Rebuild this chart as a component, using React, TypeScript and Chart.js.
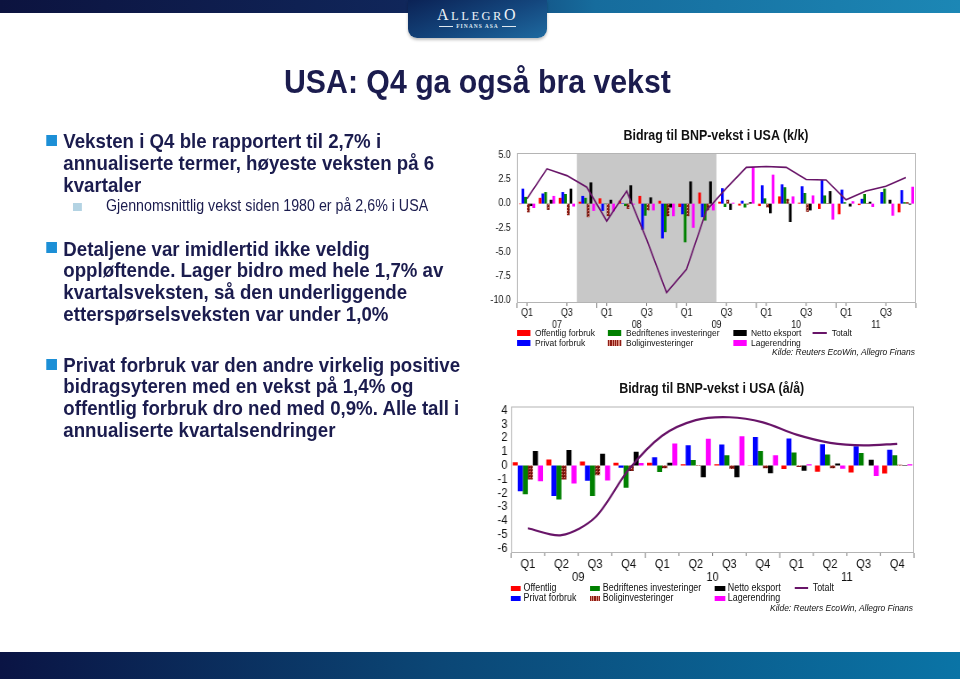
import React, { useEffect, useRef } from 'react';
import { Chart, registerables } from 'chart.js';

Chart.register(...registerables);

const FONT = '"Liberation Sans", Arial, Helvetica, sans-serif';
const SERIF = '"Liberation Serif", "DejaVu Serif", serif';
const NAVY = '#1b1c4e';
const SX = 0.89; // horizontal compression of the slide
const X = (v: number) => v / SX;

// ---------------- Chart 1: Bidrag til BNP-vekst i USA (k/k) ----------------
const TITLE_KK = 'Bidrag til BNP-vekst i USA (k/k)';
const QUARTERS_KK = ['Q1', 'Q2', 'Q3', 'Q4', 'Q1', 'Q2', 'Q3', 'Q4', 'Q1', 'Q2', 'Q3', 'Q4', 'Q1', 'Q2', 'Q3', 'Q4', 'Q1', 'Q2', 'Q3', 'Q4'];
const YEARS_KK = ['07', '08', '09', '10', '11'];
const OFFENTLIG_KK = [-0.05, 0.6, 0.6, 0.2, 0.55, 0.3, 0.8, 0.3, -0.35, 1.15, 0.2, -0.2, -0.25, 0.75, 0.1, -0.55, -1.1, -0.15, 0.0, -0.9];
const PRIVAT_KK = [1.55, 1.05, 1.2, 0.8, -0.75, 0.05, -2.7, -3.6, -1.1, -1.4, 1.6, 0.3, 1.9, 2.0, 1.8, 2.45, 1.45, 0.5, 1.2, 1.4];
const BEDRIFT_KK = [0.7, 1.2, 1.0, 0.6, -0.05, -0.25, -1.25, -2.95, -4.0, -1.75, -0.35, -0.4, 0.55, 1.7, 1.1, 0.85, 0.15, 1.0, 1.55, 0.15];
const BOLIG_KK = [-0.9, -0.65, -1.2, -1.4, -1.3, -0.55, -0.7, -1.3, -1.3, -0.7, 0.4, -0.1, -0.4, 0.5, -0.85, 0.05, 0.0, 0.05, 0.0, 0.15];
const NETTO_KK = [-0.25, 0.4, 1.55, 2.2, 0.4, 1.9, 0.65, -0.4, 2.3, 2.3, -0.65, 0.15, -1.0, -1.9, -0.7, 1.3, -0.3, 0.2, 0.4, -0.1];
const LAGER_KK = [-0.45, 0.8, -0.3, -0.75, -0.8, -0.1, -0.7, -1.3, -2.5, -0.7, 0.1, 3.8, 3.0, 0.75, 0.85, -1.65, 0.25, -0.35, -1.25, 1.75];
const TOTALT_KK = [0.5, 3.6, 2.9, 1.7, -1.8, 1.3, -3.7, -9.2, -6.8, -0.7, 1.6, 3.75, 3.85, 3.75, 2.5, 2.45, 0.4, 1.3, 1.8, 2.7];
const RECESSION_KK = [3, 9]; // first and last shaded quarter (Q4 07 - Q2 09)
const NAMES_KK = ['Offentlig forbruk', 'Privat forbruk', 'Bedriftenes investeringer', 'Boliginvesteringer', 'Netto eksport', 'Lagerendring'];

// ---------------- Chart 2: Bidrag til BNP-vekst i USA (å/å) ----------------
const TITLE_AA = 'Bidrag til BNP-vekst i USA (å/å)';
const QUARTERS_AA = ['Q1', 'Q2', 'Q3', 'Q4', 'Q1', 'Q2', 'Q3', 'Q4', 'Q1', 'Q2', 'Q3', 'Q4'];
const YEARS_AA = ['09', '10', '11'];
const OFFENTLIG_AA = [0.25, 0.45, 0.3, 0.2, 0.2, 0.1, 0.1, 0.02, -0.25, -0.45, -0.5, -0.58];
const PRIVAT_AA = [-1.85, -2.2, -1.1, -0.15, 0.6, 1.48, 1.53, 2.07, 1.97, 1.55, 1.4, 1.15];
const BEDRIFT_AA = [-2.07, -2.45, -2.2, -1.6, -0.47, 0.4, 0.75, 1.06, 0.95, 0.8, 0.92, 0.75];
const BOLIG_AA = [-1.0, -1.0, -0.7, -0.4, -0.2, 0.05, -0.25, -0.2, -0.1, -0.2, 0.0, 0.07];
const NETTO_AA = [1.06, 1.13, 0.85, 1.0, 0.2, -0.85, -0.85, -0.55, -0.37, 0.15, 0.42, 0.05];
const LAGER_AA = [-1.13, -1.3, -1.08, 0.18, 1.6, 1.95, 2.12, 0.75, 0.1, -0.22, -0.75, 0.1];
const TOTALT_AA = [-4.54, -5.04, -3.76, -0.3, 2.16, 3.29, 3.5, 3.13, 2.24, 1.65, 1.46, 1.58];
const NAMES_AA = ['Offentlig', 'Privat forbruk', 'Bedriftenes investeringer', 'Boliginvesteringer', 'Netto eksport', 'Lagerendring'];

const TOTAL_NAME = 'Totalt';
const SOURCE = 'Kilde: Reuters EcoWin, Allegro Finans';
const SERIES_COLORS = ['#ff0000', '#0000ff', '#008000', '#8e1c14', '#000000', '#ff00ff'];
const TOTAL_COLOR = '#681468';

// ---------------- Slide text ----------------
const SLIDE_TITLE = 'USA: Q4 ga også bra vekst';
const BULLET_1 = ['Veksten i Q4 ble rapportert til 2,7% i', 'annualiserte termer, høyeste veksten på 6', 'kvartaler'];
const SUB_1 = 'Gjennomsnittlig vekst siden 1980 er på 2,6% i USA';
const BULLET_2 = ['Detaljene var imidlertid ikke veldig', 'oppløftende. Lager bidro med hele 1,7% av', 'kvartalsveksten, så den underliggende', 'etterspørselsveksten var under 1,0%'];
const BULLET_3 = ['Privat forbruk var den andre virkelig positive', 'bidragsyteren med en vekst på 1,4% og', 'offentlig forbruk dro ned med 0,9%. Alle tall i', 'annualiserte kvartalsendringer'];

function hatchPattern(ctx: CanvasRenderingContext2D) {
  const c = document.createElement('canvas');
  c.width = 3;
  c.height = 3;
  const g = c.getContext('2d')!;
  g.fillStyle = '#8e1c14';
  g.fillRect(0, 0, 3, 3);
  g.fillStyle = '#e0a090';
  g.fillRect(1, 1, 1, 1);
  g.fillStyle = '#3a0805';
  g.fillRect(0, 0, 1, 1);
  return ctx.createPattern(c, 'repeat');
}

function decor(o: any) {
  return {
    id: 'decor',
    beforeDatasetsDraw(chart: any) {
      if (!o.shade) return;
      const { ctx, chartArea: a } = chart;
      const x = chart.scales.x;
      const w = x.getPixelForValue(1) - x.getPixelForValue(0);
      const x0 = x.getPixelForValue(o.shade[0]) - w / 2;
      const x1 = x.getPixelForValue(o.shade[1]) + w / 2;
      ctx.save();
      ctx.fillStyle = '#c8c8c8';
      ctx.fillRect(x0, a.top, x1 - x0, a.bottom - a.top);
      ctx.restore();
    },
    afterDraw(chart: any) {
      const { ctx, chartArea: a } = chart;
      const x = chart.scales.x;
      const n = chart.data.labels.length;
      const w = x.getPixelForValue(1) - x.getPixelForValue(0);
      ctx.save();
      ctx.strokeStyle = '#b4b4b4';
      ctx.lineWidth = 1;
      ctx.strokeRect(a.left + 0.5, a.top + 0.5, a.right - a.left - 1, a.bottom - a.top - 1);
      ctx.strokeStyle = '#7a7a7a';
      ctx.beginPath();
      for (let i = 0; i <= n; i++) {
        const px = x.getPixelForValue(0) - w / 2 + i * w;
        const isYear = i % o.perYear === 0;
        if (isYear || o.allBoundaries) {
          ctx.moveTo(px, a.bottom);
          ctx.lineTo(px, a.bottom + (isYear ? 5 : 3));
        }
      }
      if (o.centerEvery) {
        for (let i = 0; i < n; i += o.centerEvery) {
          const px = x.getPixelForValue(i);
          ctx.moveTo(px, a.bottom);
          ctx.lineTo(px, a.bottom + 3);
        }
      }
      ctx.stroke();
      ctx.fillStyle = '#111';
      ctx.font = o.yearFont;
      ctx.textAlign = 'center';
      ctx.textBaseline = 'middle';
      o.years.forEach((yr: string, k: number) => {
        const cx = (x.getPixelForValue(k * o.perYear) + x.getPixelForValue(k * o.perYear + o.perYear - 1)) / 2;
        ctx.fillText(yr, cx, a.bottom + o.yearOffset);
      });
      ctx.restore();
    },
  };
}

function buildConfig(p: any) {
  return (ctx: CanvasRenderingContext2D) => {
    const pattern = hatchPattern(ctx);
    const datasets: any[] = p.series.map((data: number[], i: number) => ({
      type: 'bar',
      label: p.names[i],
      data,
      backgroundColor: i === 3 ? pattern : SERIES_COLORS[i],
      borderWidth: 0,
      categoryPercentage: p.catPct,
      barPercentage: 1,
      order: 1,
    }));
    datasets.push({
      type: 'line',
      label: TOTAL_NAME,
      data: p.total,
      borderColor: TOTAL_COLOR,
      borderWidth: p.lineWidth,
      pointRadius: 0,
      tension: p.tension,
      fill: false,
      order: 0,
    });
    return {
      type: 'bar',
      data: { labels: p.labels, datasets },
      options: {
        responsive: false,
        animation: false,
        devicePixelRatio: 1,
        layout: { padding: p.padding },
        plugins: { legend: { display: false }, tooltip: { enabled: false }, title: { display: false } },
        scales: {
          x: {
            type: 'category',
            offset: true,
            grid: { display: false, drawTicks: false },
            border: { display: false },
            ticks: {
              autoSkip: false,
              maxRotation: 0,
              minRotation: 0,
              padding: p.xPad,
              color: '#111',
              font: { family: FONT, size: p.fontSize },
              callback: (_v: any, i: number) => (i % p.labelEvery === 0 ? p.labels[i] : ''),
            },
            afterFit: (s: any) => {
              s.height = p.xHeight;
            },
          },
          y: {
            min: p.yMin,
            max: p.yMax,
            grid: { display: false, drawTicks: false },
            border: { display: false },
            ticks: {
              stepSize: p.yStep,
              autoSkip: false,
              includeBounds: false,
              padding: p.yPad,
              color: '#111',
              font: { family: FONT, size: p.fontSize },
              callback: (v: any) => Number(v).toFixed(p.decimals),
            },
            afterFit: (s: any) => {
              s.width = p.yWidth;
            },
          },
        },
      },
      plugins: [decor(p.decor)],
    };
  };
}

const configKK = buildConfig({
  labels: QUARTERS_KK,
  names: NAMES_KK,
  series: [OFFENTLIG_KK, PRIVAT_KK, BEDRIFT_KK, BOLIG_KK, NETTO_KK, LAGER_KK],
  total: TOTALT_KK,
  yMin: -10.28,
  yMax: 5.24,
  yStep: 2.5,
  decimals: 1,
  fontSize: 10,
  yWidth: 40.9,
  yPad: 7,
  xHeight: 27,
  xPad: 4,
  padding: { left: 0, top: 9.3, right: 11, bottom: 0 },
  catPct: 0.82,
  lineWidth: 1.6,
  tension: 0,
  labelEvery: 2,
  decor: { shade: RECESSION_KK, years: YEARS_KK, perYear: 4, yearFont: `10px ${FONT}`, yearOffset: 21.8, centerEvery: 2, allBoundaries: false },
});

const configAA = buildConfig({
  labels: QUARTERS_AA,
  names: NAMES_AA,
  series: [OFFENTLIG_AA, PRIVAT_AA, BEDRIFT_AA, BOLIG_AA, NETTO_AA, LAGER_AA],
  total: TOTALT_AA,
  yMin: -6.33,
  yMax: 4.28,
  yStep: 1,
  decimals: 0,
  fontSize: 12.5,
  yWidth: 34.2,
  yPad: 4,
  xHeight: 32,
  xPad: 3.8,
  padding: { left: 0, top: 7.7, right: 13, bottom: 0 },
  catPct: 0.9,
  lineWidth: 2.2,
  tension: 0.3,
  labelEvery: 1,
  decor: { years: YEARS_AA, perYear: 4, yearFont: `12.5px ${FONT}`, yearOffset: 24.7, allBoundaries: true },
});

function ChartCanvas({ build, left, top, width, height }: any) {
  const ref = useRef<HTMLCanvasElement>(null);
  useEffect(() => {
    const canvas = ref.current!;
    const ctx = canvas.getContext('2d')!;
    const chart = new Chart(canvas, build(ctx));
    return () => chart.destroy();
  }, []);
  return <canvas ref={ref} width={width} height={height} style={{ position: 'absolute', left, top, width, height }} />;
}

// text helpers (x in screen px, converted to uncompressed coords)
function TextLine({ x, baseline, size, bold, color, children }: any) {
  return (
    <div
      style={{
        position: 'absolute',
        left: X(x),
        top: baseline - 0.8465 * size,
        fontSize: size,
        lineHeight: `${size}px`,
        fontWeight: bold ? 700 : 400,
        color,
        whiteSpace: 'nowrap',
      }}
    >
      {children}
    </div>
  );
}

function CenterText({ cx, cy, size, bold, italic, align, children }: any) {
  const lh = size * 1.2;
  const w = 600;
  const left = align === 'right' ? X(cx) - w : X(cx) - w / 2;
  return (
    <div
      style={{
        position: 'absolute',
        left,
        width: w,
        top: cy - lh / 2,
        fontSize: size,
        lineHeight: `${lh}px`,
        fontWeight: bold ? 700 : 400,
        fontStyle: italic ? 'italic' : 'normal',
        textAlign: align === 'right' ? 'right' : 'center',
        color: '#111',
        whiteSpace: 'nowrap',
      }}
    >
      {children}
    </div>
  );
}

const LEGEND_ROWS = [[0, 2, 4, -1], [1, 3, 5]];

function Legend({ names, cols, rows, sw, sh, textOff, lineEnd, size }: any) {
  const items: any[] = [];
  LEGEND_ROWS.forEach((row, r) => {
    row.forEach((si, c) => {
      const cy = rows[r];
      const x = cols[c];
      const lh = size * 1.2;
      if (si === -1) {
        items.push(<div key={`l${r}${c}`} style={{ position: 'absolute', left: X(x), top: cy - 1, width: X(lineEnd) - X(x), height: 2, background: TOTAL_COLOR }} />);
        items.push(
          <div key={`t${r}${c}`} style={{ position: 'absolute', left: X(lineEnd + 4.7), top: cy - lh / 2, fontSize: size, lineHeight: `${lh}px`, color: '#111', whiteSpace: 'nowrap' }}>
            {TOTAL_NAME}
          </div>
        );
      } else {
        const hatch = si === 3;
        items.push(
          <div
            key={`s${r}${c}`}
            style={{
              position: 'absolute',
              left: X(x),
              top: cy - sh / 2,
              width: sw / SX,
              height: sh,
              backgroundColor: SERIES_COLORS[si],
              backgroundImage: hatch ? 'repeating-linear-gradient(90deg, #8e1c14 0 1px, #d98a7c 1px 2px)' : 'none',
            }}
          />
        );
        items.push(
          <div key={`t${r}${c}`} style={{ position: 'absolute', left: X(x + textOff), top: cy - lh / 2, fontSize: size, lineHeight: `${lh}px`, color: '#111', whiteSpace: 'nowrap' }}>
            {names[si]}
          </div>
        );
      }
    });
  });
  return <>{items}</>;
}

function Bullet({ cy }: any) {
  return <div style={{ position: 'absolute', left: X(46), top: cy - 5.5, width: 11 / SX, height: 11, background: '#1c8fd6' }} />;
}

export default function App() {
  useEffect(() => {
    document.body.style.margin = '0';
    document.body.style.overflow = 'hidden';
  }, []);
  const lh = 21.8;
  return (
    <div style={{ position: 'absolute', left: 0, top: 0, width: 960, height: 679, background: '#fff', overflow: 'hidden', fontFamily: FONT }}>
      {/* top bar */}
      <div style={{ position: 'absolute', left: 0, top: 0, width: 960, height: 13, background: 'linear-gradient(90deg, #0c133f 0%, #10265a 42%, #166c9d 62%, #1c87b5 100%)' }} />
      {/* logo */}
      <div style={{ position: 'absolute', left: 408, top: 0, width: 139, height: 38, borderRadius: '0 0 9px 9px', background: 'linear-gradient(160deg, #0b2255 0%, #14477e 55%, #1e6aa0 100%)', boxShadow: '0 2px 3px rgba(0,0,0,0.25)' }}>
        <div style={{ position: 'absolute', left: 0, top: 7, width: 139, textAlign: 'center', color: '#eef3f8', fontFamily: SERIF, lineHeight: '16px', letterSpacing: 2.5, whiteSpace: 'nowrap' }}>
          <span style={{ fontSize: 16 }}>A</span>
          <span style={{ fontSize: 12.5 }}>LLEGR</span>
          <span style={{ fontSize: 16 }}>O</span>
        </div>
        <div style={{ position: 'absolute', left: 0, top: 23, width: 139, display: 'flex', justifyContent: 'center', alignItems: 'center', gap: 3 }}>
          <div style={{ width: 14, height: 1, background: '#dfe8f0' }} />
          <span style={{ fontSize: 5.5, color: '#dfe8f0', letterSpacing: 1, fontFamily: SERIF, fontWeight: 700, lineHeight: '6px' }}>FINANS ASA</span>
          <div style={{ width: 14, height: 1, background: '#dfe8f0' }} />
        </div>
      </div>
      {/* bottom bar */}
      <div style={{ position: 'absolute', left: 0, top: 652, width: 960, height: 27, background: 'linear-gradient(90deg, #0a1444 0%, #0b4675 45%, #0a74a6 100%)' }} />

      {/* compressed content */}
      <div style={{ position: 'absolute', left: 0, top: 0, width: X(960), height: 679, transform: `scaleX(${SX})`, transformOrigin: '0 0' }}>
        <TextLine x={284} baseline={92.3} size={34} bold color={NAVY}>{SLIDE_TITLE}</TextLine>

        <Bullet cy={140.2} />
        {BULLET_1.map((t, i) => (
          <TextLine key={`b1${i}`} x={63.3} baseline={147.7 + i * lh} size={21} bold color={NAVY}>{t}</TextLine>
        ))}
        <div style={{ position: 'absolute', left: X(73.3), top: 202.7, width: 8.4 / SX, height: 8, background: '#b3d3e3' }} />
        <TextLine x={106} baseline={211.7} size={16} color={NAVY}>{SUB_1}</TextLine>

        <Bullet cy={247.8} />
        {BULLET_2.map((t, i) => (
          <TextLine key={`b2${i}`} x={63.3} baseline={255.3 + i * lh} size={21} bold color={NAVY}>{t}</TextLine>
        ))}

        <Bullet cy={364.5} />
        {BULLET_3.map((t, i) => (
          <TextLine key={`b3${i}`} x={63.3} baseline={371.3 + i * lh} size={21} bold color={NAVY}>{t}</TextLine>
        ))}

        {/* chart 1 */}
        <CenterText cx={716} cy={135} size={14} bold>{TITLE_KK}</CenterText>
        <ChartCanvas build={configKK} left={540} top={140} width={500} height={190} />
        <Legend names={NAMES_KK} cols={[517, 608, 733, 813]} rows={[332.7, 342.7]} sw={13.4} sh={6} textOff={18} lineEnd={827} size={9.5} />
        <CenterText cx={915} cy={352} size={9.5} italic align="right">{SOURCE}</CenterText>

        {/* chart 2 */}
        <CenterText cx={711.7} cy={388.3} size={14} bold>{TITLE_AA}</CenterText>
        <ChartCanvas build={configAA} left={540} top={395} width={500} height={190} />
        <Legend names={NAMES_AA} cols={[510.7, 590, 715, 795]} rows={[588.3, 598.3]} sw={10} sh={5} textOff={12.8} lineEnd={808} size={10} />
        <CenterText cx={913} cy={607.7} size={9.5} italic align="right">{SOURCE}</CenterText>
      </div>
    </div>
  );
}
